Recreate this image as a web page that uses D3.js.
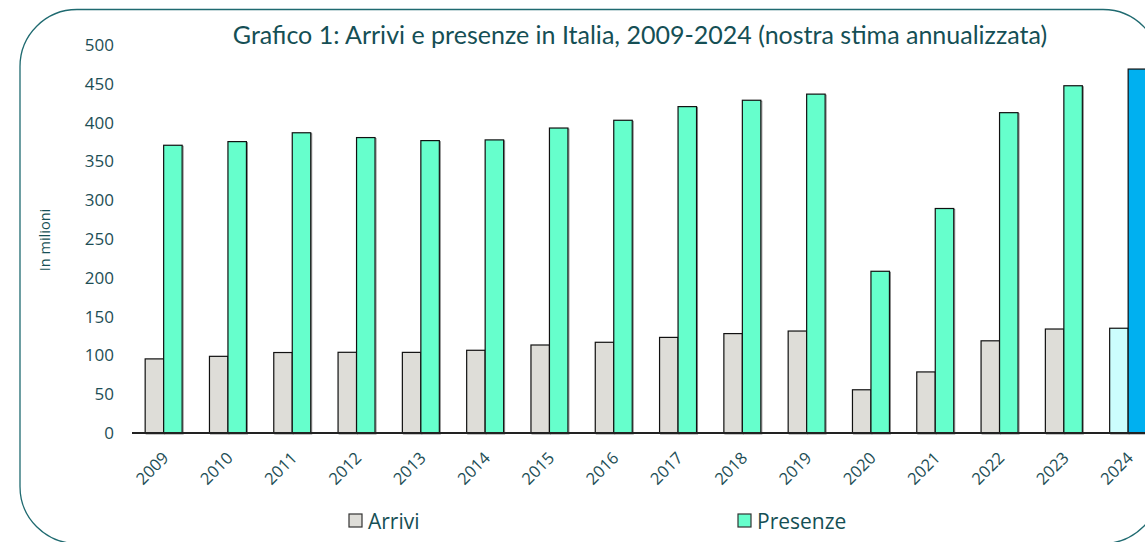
<!DOCTYPE html>
<html>
<head>
<meta charset="utf-8">
<script src="https://cdn.jsdelivr.net/npm/d3@7"></script>
<style>
  body { margin: 0; background: #fff; }
  svg { display: block; }
  .tick-label { font-family: "Open Sans", "Noto Sans", sans-serif; fill: #1d4e55; }
</style>
</head>
<body>
<div class="chart"></div>
<script>
// data (milioni)
var years = ["2009","2010","2011","2012","2013","2014","2015","2016","2017","2018","2019","2020","2021","2022","2023","2024"];
var arrivi = [95.5, 98.8, 103.7, 104, 103.9, 106.6, 113.4, 116.9, 123.2, 128.1, 131.4, 55.7, 78.7, 118.8, 134, 135];
var presenze = [370.8, 375.5, 386.9, 380.7, 376.8, 377.7, 393, 403, 420.6, 428.8, 436.7, 208.4, 289.3, 412.8, 447.5, 469];
var yTicks = [0, 50, 100, 150, 200, 250, 300, 350, 400, 450, 500];
var seriesNames = ["Arrivi", "Presenze"];

var svgWidth = 1145;
var svgHeight = 542;
var textColor = "#154f55";

var svg = d3.select(".chart")
  .append("svg")
  .attr("width", svgWidth)
  .attr("height", svgHeight);

// rounded frame
svg.append("rect")
  .attr("x", 20).attr("y", 9.5)
  .attr("width", 1140).attr("height", 534)
  .attr("rx", 57).attr("ry", 57)
  .attr("fill", "none")
  .attr("stroke", "#1f6a70")
  .attr("stroke-width", 1.3);

// scales
var x0 = d3.scaleBand()
  .domain(years)
  .range([131.5, 1160.3])
  .paddingInner(0.425)
  .paddingOuter(0.2125);

var x1 = d3.scaleBand()
  .domain(seriesNames)
  .range([0, x0.bandwidth()]);

var y = d3.scaleLinear().domain([0, 500]).range([433, 45]);

// title
var title = svg.append("text")
  .attr("x", 640)
  .attr("y", 44)
  .attr("text-anchor", "middle")
  .attr("fill", textColor)
  .style("font-family", "Lato, sans-serif")
  .style("font-size", "22px")
  .text("Grafico 1: Arrivi e presenze in Italia, 2009-2024 (nostra stima annualizzata)");
// stretch to the width seen in the reference
var tw = title.node().getComputedTextLength();
title.style("font-size", (22 * 815 / tw) + "px");

// y tick labels (no axis line)
svg.append("g")
  .selectAll("text")
  .data(yTicks)
  .enter()
  .append("text")
  .attr("class", "tick-label")
  .attr("x", 114)
  .attr("y", function(d) { return y(d); })
  .attr("dy", "0.35em")
  .attr("text-anchor", "end")
  .style("font-size", "17px")
  .text(function(d) { return d; });

// y axis title
svg.append("text")
  .attr("transform", "translate(50,240) rotate(-90)")
  .attr("text-anchor", "middle")
  .attr("fill", textColor)
  .style("font-family", "'Open Sans', sans-serif")
  .style("font-size", "14.5px")
  .text("In milioni");

// bars
function fillFor(series, i) {
  var last = i === years.length - 1;
  if (series === "Arrivi") return last ? "#ccfdfd" : "#deddd8";
  return last ? "#00b0f0" : "#66ffcc";
}

var groups = svg.append("g")
  .selectAll("g")
  .data(years)
  .enter()
  .append("g")
  .attr("transform", function(d) { return "translate(" + x0(d) + ",0)"; });

groups.each(function(yr, i) {
  var g = d3.select(this);
  var vals = [{ s: "Arrivi", v: arrivi[i] }, { s: "Presenze", v: presenze[i] }];
  // light shadow
  g.selectAll(".shadow")
    .data(vals)
    .enter()
    .append("rect")
    .attr("class", "shadow")
    .attr("x", function(d) { return x1(d.s) + 1; })
    .attr("y", function(d) { return y(d.v) + 1; })
    .attr("width", x1.bandwidth())
    .attr("height", function(d) { return y(0) - y(d.v); })
    .attr("fill", "none")
    .attr("stroke", "#8a8a8a")
    .attr("stroke-width", 1);
  g.selectAll(".bar")
    .data(vals)
    .enter()
    .append("rect")
    .attr("class", "bar")
    .attr("x", function(d) { return x1(d.s); })
    .attr("y", function(d) { return y(d.v); })
    .attr("width", x1.bandwidth())
    .attr("height", function(d) { return y(0) - y(d.v); })
    .attr("fill", function(d) { return fillFor(d.s, i); })
    .attr("stroke", "#111")
    .attr("stroke-width", 1.2);
});

// x baseline
svg.append("line")
  .attr("x1", 132).attr("x2", 1160)
  .attr("y1", y(0)).attr("y2", y(0))
  .attr("stroke", "#222")
  .attr("stroke-width", 1.8);

// x labels, rotated
svg.append("g")
  .selectAll("text")
  .data(years)
  .enter()
  .append("text")
  .attr("class", "tick-label")
  .attr("text-anchor", "end")
  .attr("transform", function(d) {
    var cx = x0(d) + x0.bandwidth() / 2 + 6;
    return "translate(" + cx + ",459) rotate(-45)";
  })
  .style("font-size", "16.5px")
  .text(function(d) { return d; });

// legend
var legendItems = [
  { name: "Arrivi", color: "#deddd8", x: 349 },
  { name: "Presenze", color: "#66ffcc", x: 738 }
];
var legend = svg.append("g")
  .selectAll("g")
  .data(legendItems)
  .enter()
  .append("g")
  .attr("transform", function(d) { return "translate(" + d.x + ",514)"; });

legend.append("rect")
  .attr("width", 13).attr("height", 13)
  .attr("fill", function(d) { return d.color; })
  .attr("stroke", "#333")
  .attr("stroke-width", 1.2);

legend.append("text")
  .attr("x", 19)
  .attr("y", 14.5)
  .attr("fill", textColor)
  .style("font-family", "'Open Sans', sans-serif")
  .style("font-size", "21px")
  .text(function(d) { return d.name; });
</script>
</body>
</html>
